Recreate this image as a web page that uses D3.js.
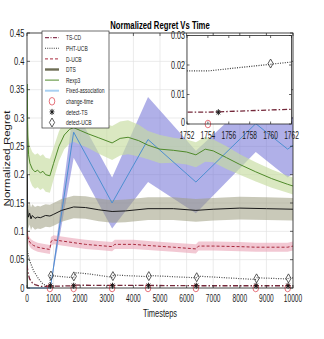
<!DOCTYPE html>
<html><head><meta charset="utf-8">
<script src="https://cdn.jsdelivr.net/npm/d3@7"></script>
<style>body{margin:0;background:#fff}svg{display:block}text{font-family:"Liberation Sans",Arial,sans-serif}</style>
</head><body><svg id="c" width="324" height="339"></svg>
<script>
// ---------- data ----------
const changeTimes = [860, 1754, 3200, 4550, 6350, 8600, 9800];
const detectTS_t = [880, 1755, 3215, 4565, 6365, 8615, 9815];
const detectTS_v = [0.004, 0.004, 0.004, 0.004, 0.004, 0.004, 0.004];
const detectUCB_t = [900, 1760, 3230, 4580, 6380, 8630, 9830];
const detectUCB_v = [0.022, 0.0205, 0.021, 0.021, 0.019, 0.017, 0.017];

const tscd_t = [0, 50, 100, 200, 300, 500, 860, 1754, 1762, 3200, 4550, 6350, 8600, 10000];
const tscd_v = [0.04, 0.024, 0.016, 0.009, 0.006, 0.003, 0.003, 0.004, 0.005, 0.0045, 0.0045, 0.004, 0.004, 0.004];

const pht_t = [0, 50, 100, 250, 450, 600, 800, 860, 880, 1754, 1762, 1850, 2300, 3200, 3260, 4550, 4600, 6350, 6400, 8600, 8650, 9800, 9850, 10000];
const pht_v = [0.07, 0.058, 0.048, 0.03, 0.015, 0.007, 0.003, 0.003, 0.022, 0.018, 0.021, 0.027, 0.025, 0.019, 0.023, 0.02, 0.022, 0.018, 0.021, 0.015, 0.018, 0.016, 0.018, 0.018];

const ducb_t = [0, 30, 80, 150, 250, 400, 600, 860, 900, 1000, 1300, 1754, 2200, 2700, 3200, 3300, 4000, 4550, 5500, 6350, 6450, 7000, 8000, 8600, 9800, 10000];
const ducb_v = [0.1, 0.09, 0.083, 0.078, 0.075, 0.072, 0.07, 0.068, 0.082, 0.085, 0.083, 0.08, 0.077, 0.075, 0.073, 0.077, 0.077, 0.075, 0.072, 0.069, 0.074, 0.074, 0.073, 0.072, 0.072, 0.074];
const ducb_e = [0.01, 0.009, 0.008, 0.008, 0.008, 0.008, 0.008, 0.008, 0.008, 0.008, 0.008, 0.008, 0.008, 0.008, 0.008, 0.008, 0.008, 0.008, 0.008, 0.008, 0.008, 0.008, 0.008, 0.008, 0.008, 0.008];

const dts_t = [0, 5, 20, 50, 100, 150, 200, 300, 400, 500, 600, 700, 860, 1000, 1300, 1754, 2200, 2700, 3200, 3700, 4550, 5500, 6350, 7000, 8000, 9000, 10000];
const dts_v = [0.0, 0.2, 0.14, 0.125, 0.132, 0.122, 0.128, 0.123, 0.125, 0.124, 0.126, 0.128, 0.127, 0.13, 0.137, 0.143, 0.142, 0.138, 0.135, 0.136, 0.14, 0.14, 0.137, 0.139, 0.141, 0.14, 0.139];
const dts_e = [0.0, 0.03, 0.022, 0.02, 0.02, 0.02, 0.02, 0.02, 0.02, 0.02, 0.02, 0.02, 0.02, 0.02, 0.02, 0.02, 0.02, 0.02, 0.02, 0.02, 0.02, 0.02, 0.02, 0.02, 0.02, 0.02, 0.02];

const rexp_t = [0, 5, 30, 60, 110, 200, 300, 400, 500, 600, 700, 860, 1000, 1200, 1400, 1600, 1754, 2000, 2300, 2700, 3200, 3500, 3800, 4200, 4550, 5000, 5500, 6000, 6350, 6700, 7000, 7500, 8000, 8600, 9200, 9800, 10000];
const rexp_v = [0.0, 0.36, 0.27, 0.235, 0.22, 0.21, 0.205, 0.208, 0.203, 0.206, 0.2, 0.198, 0.22, 0.25, 0.27, 0.28, 0.283, 0.278, 0.272, 0.265, 0.256, 0.264, 0.266, 0.26, 0.252, 0.245, 0.243, 0.24, 0.235, 0.245, 0.242, 0.23, 0.218, 0.205, 0.193, 0.183, 0.18];
const rexp_e = [0.0, 0.04, 0.03, 0.03, 0.03, 0.03, 0.03, 0.03, 0.03, 0.03, 0.03, 0.03, 0.028, 0.026, 0.025, 0.025, 0.025, 0.025, 0.025, 0.028, 0.03, 0.03, 0.03, 0.028, 0.025, 0.025, 0.022, 0.022, 0.022, 0.022, 0.02, 0.02, 0.018, 0.017, 0.016, 0.015, 0.015];

const fixed_t = [0, 880, 1754, 3200, 4550, 6350, 8600, 9800, 10000];
const fixed_v = [0, 0, 0.275, 0.15, 0.262, 0.187, 0.29, 0.245, 0.252];
const fixed_e = [0, 0, 0.045, 0.045, 0.075, 0.055, 0.05, 0.05, 0.05];

const xTicks = [0,1000,2000,3000,4000,5000,6000,7000,8000,9000,10000];
const yTicks = [0,0.05,0.1,0.15,0.2,0.25,0.3,0.35,0.4,0.45];
const yTickLabels = ["0","0.05","0.1","0.15","0.2","0.25","0.3","0.35","0.4","0.45"];
const inXTicks = [1752,1754,1756,1758,1760,1762];
const inYTicks = [0,0.01,0.02,0.03];
const inYTickLabels = ["0","0.01","0.02","0.03"];

const legendNames = ["TS-CD","PHT-UCB","D-UCB","DTS","Rexp3","Fixed-association","change-time","detect-TS","detect-UCB"];

// ---------- setup ----------
const svg = d3.select("#c");
const L = 27, R = 293, T = 33, B = 288;
const x = d3.scaleLinear([0,10000],[L,R]);
const y = d3.scaleLinear([0,0.45],[B,T]);
const zip = (t,v,e) => t.map((d,i)=>({t:d, v:v[i], e:e?e[i]:0}));

function txt(g, s, px, py, opt){
  const o = Object.assign({size:10, sx:0.72, anchor:"middle", weight:"normal", rot:0, fill:"#1a1a1a"}, opt||{});
  const gg = g.append("g").attr("transform",`translate(${px},${py}) rotate(${o.rot}) scale(${o.rot? 1 : o.sx},${o.rot? o.sx : 1})`);
  gg.append("text").text(s).attr("font-size",o.size).attr("text-anchor",o.anchor)
    .attr("font-weight",o.weight).attr("fill",o.fill);
}

const defs = svg.append("defs");
defs.append("clipPath").attr("id","mainclip").append("rect").attr("x",L).attr("y",T).attr("width",R-L).attr("height",B-T+1);

// grid
const gridG = svg.append("g");
xTicks.forEach(t=>gridG.append("line").attr("x1",x(t)).attr("x2",x(t)).attr("y1",T).attr("y2",B).attr("stroke","#e3e3e3").attr("stroke-width",0.7));
yTicks.forEach(t=>gridG.append("line").attr("x1",L).attr("x2",R).attr("y1",y(t)).attr("y2",y(t)).attr("stroke","#e3e3e3").attr("stroke-width",0.7));

const plot = svg.append("g").attr("clip-path","url(#mainclip)");

function band(g, data, xs, ys, fill, op){
  const area = d3.area().x(d=>xs(d.t)).y0(d=>ys(d.v-d.e)).y1(d=>ys(d.v+d.e));
  g.append("path").attr("d",area(data)).attr("fill",fill).attr("fill-opacity",op).attr("stroke","none");
}
function line(g, data, xs, ys, color, w, dash){
  const ln = d3.line().x(d=>xs(d.t)).y(d=>ys(d.v));
  g.append("path").attr("d",ln(data)).attr("fill","none").attr("stroke",color).attr("stroke-width",w).attr("stroke-dasharray",dash||null);
}

const fixed = zip(fixed_t,fixed_v,fixed_e);
const rexp = zip(rexp_t,rexp_v,rexp_e);
const dts = zip(dts_t,dts_v,dts_e);
const ducb = zip(ducb_t,ducb_v,ducb_e);
const pht = zip(pht_t,pht_v);
const tscd = zip(tscd_t,tscd_v);

band(plot, fixed, x, y, "#6f6fd6", 0.55);
band(plot, rexp, x, y, "#c6dca0", 0.65);
band(plot, dts, x, y, "#9c9c80", 0.55);
band(plot, ducb, x, y, "#e9a3b6", 0.6);

line(plot, fixed, x, y, "#4d8fd1", 1);
line(plot, rexp, x, y, "#4f8a2a", 1);
line(plot, dts, x, y, "#1a1a1a", 1);
line(plot, ducb, x, y, "#a8283c", 1, "3,2");
line(plot, pht, x, y, "#4a4a4a", 1.2, "1,1.4");
line(plot, tscd, x, y, "#74283a", 1.3, "5,2,1.5,2");

// markers
function circleM(g, px, py){ g.append("ellipse").attr("cx",px).attr("cy",py).attr("rx",2.8).attr("ry",3.8).attr("fill","none").attr("stroke","#e0505a").attr("stroke-width",0.8); }
function starM(g, px, py){
  const s = g.append("g").attr("transform",`translate(${px},${py})`).attr("stroke","#111").attr("stroke-width",0.9);
  s.append("line").attr("x1",-2.4).attr("x2",2.4).attr("y1",0).attr("y2",0);
  s.append("line").attr("x1",0).attr("x2",0).attr("y1",-3).attr("y2",3);
  s.append("line").attr("x1",-1.8).attr("x2",1.8).attr("y1",-2.2).attr("y2",2.2);
  s.append("line").attr("x1",-1.8).attr("x2",1.8).attr("y1",2.2).attr("y2",-2.2);
}
function diaM(g, px, py){ g.append("path").attr("d",`M${px},${py-4.5}L${px+2.6},${py}L${px},${py+4.5}L${px-2.6},${py}Z`).attr("fill","none").attr("stroke","#333").attr("stroke-width",0.8); }

const mk = svg.append("g");
changeTimes.forEach(t=>circleM(mk, x(t), y(0)));
detectUCB_t.forEach((t,i)=>diaM(mk, x(t), y(detectUCB_v[i])));
detectTS_t.forEach((t,i)=>starM(mk, x(t), y(detectTS_v[i])));

// axes box
const ax = svg.append("g");
ax.append("rect").attr("x",L).attr("y",T).attr("width",R-L).attr("height",B-T).attr("fill","none").attr("stroke","#262626").attr("stroke-width",0.8);
xTicks.forEach(t=>{
  ax.append("line").attr("x1",x(t)).attr("x2",x(t)).attr("y1",B).attr("y2",B-3).attr("stroke","#262626").attr("stroke-width",0.7);
  ax.append("line").attr("x1",x(t)).attr("x2",x(t)).attr("y1",T).attr("y2",T+3).attr("stroke","#262626").attr("stroke-width",0.7);
  txt(ax, String(t), x(t), 302, {size:11, sx:0.6});
});
yTicks.forEach((t,i)=>{
  ax.append("line").attr("x1",L).attr("x2",L+3).attr("y1",y(t)).attr("y2",y(t)).attr("stroke","#262626").attr("stroke-width",0.7);
  ax.append("line").attr("x1",R).attr("x2",R-3).attr("y1",y(t)).attr("y2",y(t)).attr("stroke","#262626").attr("stroke-width",0.7);
  txt(ax, yTickLabels[i], L-2.5, y(t)+3.6, {size:10.5, sx:0.72, anchor:"end"});
});
txt(svg, "Timesteps", (L+R)/2, 317, {size:11, sx:0.68});
txt(svg, "Normalized Regret", 10, (T+B)/2 - 2, {size:11.5, sx:0.72, rot:-90});
txt(svg, "Normalized Regret Vs Time", 160, 29, {size:11, sx:0.7, weight:"bold", fill:"#000"});

// ---------- legend ----------
const lg = svg.append("g");
lg.append("rect").attr("x",42).attr("y",31).attr("width",67).attr("height",97).attr("fill","#fff").attr("stroke","#333").attr("stroke-width",0.7);
const ly = i => 37.7 + i*10.6;
const lx0 = 45, lx1 = 59;
function legLine(i, color, w, dash){ lg.append("line").attr("x1",lx0).attr("x2",lx1).attr("y1",ly(i)).attr("y2",ly(i)).attr("stroke",color).attr("stroke-width",w).attr("stroke-dasharray",dash||null); }
legLine(0,"#8a3a55",1.3,"4,1.5,1,1.5");
legLine(1,"#3a3a3a",1.1,"1,1.2");
legLine(2,"#a8283c",1,"3,2");
legLine(3,"#6e6e55",2.4);
legLine(4,"#4f8a2a",1);
legLine(5,"#a8d0f2",2);
circleM(lg,(lx0+lx1)/2,ly(6));
starM(lg,(lx0+lx1)/2,ly(7));
diaM(lg,(lx0+lx1)/2,ly(8));
legendNames.forEach((n,i)=>txt(lg, n, 66, ly(i)+2.6, {size:8, sx:0.62, anchor:"start"}));

// ---------- inset ----------
const IL = 187, IR = 291.5, IT = 35.5, IB = 124;
const xi = d3.scaleLinear([1752,1762],[IL,IR]);
const yi = d3.scaleLinear([0,0.03],[IB,IT]);
defs.append("clipPath").attr("id","inclip").append("rect").attr("x",IL).attr("y",IT).attr("width",IR-IL).attr("height",IB-IT);
const ins = svg.append("g");
ins.append("rect").attr("x",IL).attr("y",IT).attr("width",IR-IL).attr("height",IB-IT).attr("fill","#fff");
const ip = ins.append("g").attr("clip-path","url(#inclip)");
line(ip, fixed, xi, yi, "#4d8fd1", 1);
line(ip, ducb, xi, yi, "#a8283c", 1, "3,2");
line(ip, pht, xi, yi, "#3a3a3a", 1.2, "1,1.4");
line(ip, tscd, xi, yi, "#74283a", 1.3, "5,2,1.5,2");
changeTimes.filter(t=>t>=1752&&t<=1762).forEach(t=>circleM(ins, xi(t), yi(0)));
detectUCB_t.forEach((t,i)=>{ if(t>=1752&&t<=1762) diaM(ins, xi(t), yi(detectUCB_v[i])); });
detectTS_t.forEach((t,i)=>{ if(t>=1752&&t<=1762) starM(ins, xi(t), yi(detectTS_v[i])); });
ins.append("rect").attr("x",IL).attr("y",IT).attr("width",IR-IL).attr("height",IB-IT).attr("fill","none").attr("stroke","#262626").attr("stroke-width",0.8);
inXTicks.forEach(t=>{
  ins.append("line").attr("x1",xi(t)).attr("x2",xi(t)).attr("y1",IB).attr("y2",IB-2.5).attr("stroke","#262626").attr("stroke-width",0.7);
  ins.append("line").attr("x1",xi(t)).attr("x2",xi(t)).attr("y1",IT).attr("y2",IT+2.5).attr("stroke","#262626").attr("stroke-width",0.7);
  txt(ins, String(t), xi(t), 138.5, {size:10, sx:0.66});
});
inYTicks.forEach((t,i)=>{
  ins.append("line").attr("x1",IL).attr("x2",IL+2.5).attr("y1",yi(t)).attr("y2",yi(t)).attr("stroke","#262626").attr("stroke-width",0.7);
  ins.append("line").attr("x1",IR).attr("x2",IR-2.5).attr("y1",yi(t)).attr("y2",yi(t)).attr("stroke","#262626").attr("stroke-width",0.7);
  txt(ins, inYTickLabels[i], IL-2, t===0 ? yi(t)+2 : yi(t)+3.6, {size:10, sx:0.72, anchor:"end"});
});
</script></body></html>
